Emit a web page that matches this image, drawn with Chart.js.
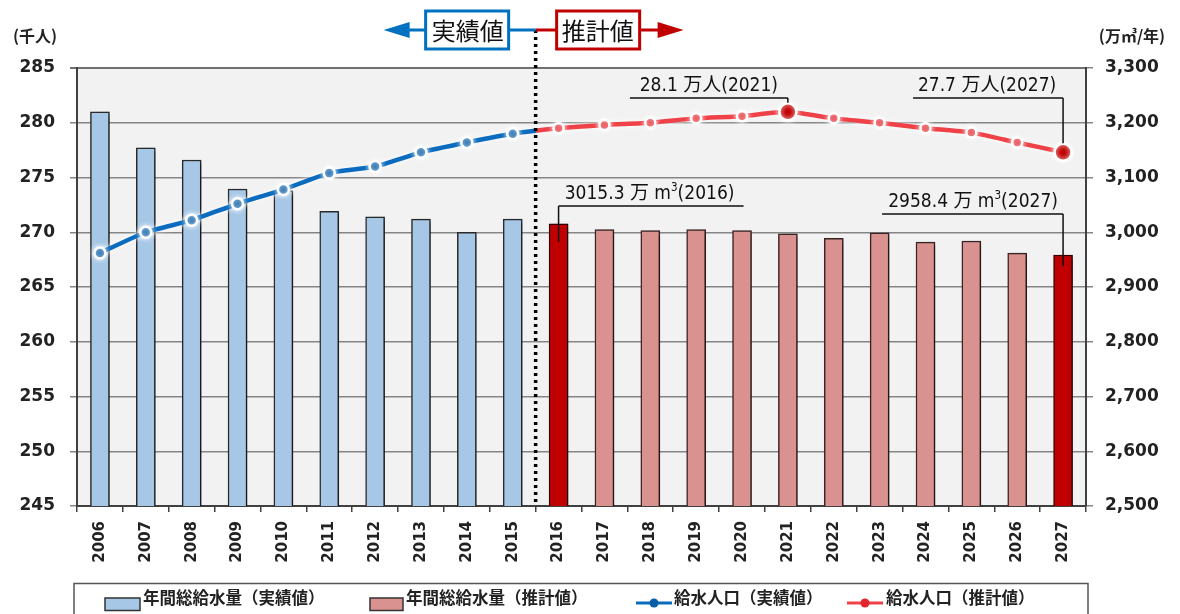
<!DOCTYPE html>
<html lang="ja">
<head>
<meta charset="utf-8">
<title>給水人口と年間総給水量</title>
<script src="https://cdn.jsdelivr.net/npm/chart.js@4.4.0/dist/chart.umd.min.js"></script>
<style>
  html, body { margin: 0; padding: 0; background: #fff; }
  #wrap { position: relative; width: 1180px; height: 614px; }
</style>
</head>
<body>
<div id="wrap"><canvas id="chart"></canvas></div>
<script>
const years = ['2006', '2007', '2008', '2009', '2010', '2011', '2012', '2013', '2014', '2015', '2016',
    '2017', '2018', '2019', '2020', '2021', '2022', '2023', '2024', '2025', '2026', '2027'];

// 年間総給水量 (万m3/年), right axis
const supplyActual = [3220, 3154, 3132, 3079, 3076, 3038, 3028, 3024, 3000, 3024];
const supplyEstimate = [3015.3, 3005, 3003, 3005, 3003, 2997, 2989, 2999, 2982, 2984, 2962, 2958.4];

// 給水人口 (千人), left axis
const popActual = [268.1, 270.0, 271.1, 272.6, 273.9, 275.4, 276.0, 277.3, 278.2, 279.0];
const popEstimate = [279.5, 279.8, 280.0, 280.4, 280.6, 281.0, 280.4, 280.0, 279.5, 279.1, 278.2, 277.3];

const popAxis = [245, 285, 5];
const supplyAxis = [2500, 3300, 100];

const nActual = popActual.length;
const peakIndex = 15;  // 2021
const lastIndex = years.length - 1;

const BLUE = '#0b6cbf';
const RED = '#ef4248';
const DARKRED = '#c00000';

let pad = n => new Array(n).fill(null);
let supplyA = supplyActual.concat(pad(supplyEstimate.length));
let supplyE = pad(nActual).concat(supplyEstimate);
let population = popActual.concat(popEstimate);

let estBarColors = supplyE.map((v, i) => (i === nActual || i === lastIndex) ? DARKRED : '#d9928f');
let estBarBorders = supplyE.map((v, i) => (i === nActual || i === lastIndex) ? '#3a0000' : '#3a2424');

let pointColors = population.map((v, i) => {
    if (i < nActual) return '#0a5ea8';
    if (i === peakIndex || i === lastIndex) return DARKRED;
    return '#e3262c';
});
let pointRadii = population.map((v, i) => {
    if (i < nActual) return 5.5;
    if (i === peakIndex || i === lastIndex) return 8.5;
    return 5;
});

const canvasCtx = document.getElementById('chart').getContext('2d');

function segColor(s) {
    if (s.p1DataIndex < nActual) return BLUE;
    if (s.p0DataIndex >= nActual) return RED;
    let g = canvasCtx.createLinearGradient(s.p0.x, 0, s.p1.x, 0);
    g.addColorStop(0, BLUE);
    g.addColorStop(0.5, BLUE);
    g.addColorStop(0.5, RED);
    g.addColorStop(1, RED);
    return g;
}

function drawParts(ctx, parts, cx, baseY) {
    const big = '19px "DejaVu Sans Condensed", "Noto Sans CJK JP", sans-serif';
    const small = '11.5px "DejaVu Sans Condensed", sans-serif';
    let w = 0;
    parts.forEach(p => { ctx.font = p.sup ? small : big; w += ctx.measureText(p.t).width; });
    let x = cx - w / 2;
    ctx.textAlign = 'left';
    ctx.textBaseline = 'alphabetic';
    parts.forEach(p => {
        ctx.font = p.sup ? small : big;
        ctx.fillText(p.t, x, p.sup ? baseY - 8 : baseY);
        x += ctx.measureText(p.t).width;
    });
}

function leader(ctx, x1, x2, y, vx, vy) {
    ctx.beginPath();
    ctx.moveTo(x1, y);
    ctx.lineTo(x2, y);
    ctx.moveTo(vx, y);
    ctx.lineTo(vx, vy);
    ctx.stroke();
}

const decor = {
    id: 'decor',
    beforeDraw(c) {
        const a = c.chartArea, ctx = c.ctx;
        ctx.save();
        ctx.fillStyle = '#f2f2f2';
        ctx.fillRect(a.left, a.top, a.right - a.left, a.bottom - a.top);
        ctx.restore();
    },
    beforeDatasetDraw(c, args) {
        const ctx = c.ctx;
        ctx.save();
        if (args.meta.type === 'bar') {
            ctx.shadowColor = 'rgba(0,0,0,0.4)';
            ctx.shadowBlur = 5;
            ctx.shadowOffsetX = 5;
            ctx.shadowOffsetY = 2;
        } else {
            ctx.shadowColor = 'rgba(255,255,255,0.95)';
            ctx.shadowBlur = 5;
        }
    },
    afterDatasetDraw(c) {
        c.ctx.restore();
    },
    afterDatasetsDraw(c) {
        const ctx = c.ctx, a = c.chartArea, xs = c.scales.x;
        const xb = (xs.getPixelForValue(nActual - 1) + xs.getPixelForValue(nActual)) / 2;

        // boundary between actual and estimate
        ctx.save();
        ctx.strokeStyle = '#000';
        ctx.lineWidth = 3.5;
        ctx.setLineDash([3, 4]);
        ctx.beginPath();
        ctx.moveTo(xb, 30);
        ctx.lineTo(xb, a.bottom);
        ctx.stroke();
        ctx.restore();

        const lineMeta = c.getDatasetMeta(2);
        const barMeta = c.getDatasetMeta(1);
        ctx.save();
        ctx.strokeStyle = '#111';
        ctx.fillStyle = '#111';
        ctx.lineWidth = 1.5;

        let p = lineMeta.data[peakIndex];
        let ly = a.top + 30;
        leader(ctx, p.x - 158, p.x, ly, p.x, p.y - 9);
        drawParts(ctx, [{ t: (population[peakIndex] / 10).toFixed(1) + ' 万人(' + years[peakIndex] + ')' }], p.x - 79, ly - 7);

        p = lineMeta.data[lastIndex];
        leader(ctx, p.x - 150, p.x, ly, p.x, p.y - 9);
        drawParts(ctx, [{ t: (population[lastIndex] / 10).toFixed(1) + ' 万人(' + years[lastIndex] + ')' }], p.x - 76, ly - 7);

        let b = barMeta.data[nActual];
        ly = a.top + 138;
        leader(ctx, b.x, b.x + 185, ly, b.x, b.y + 18);
        drawParts(ctx, [{ t: supplyE[nActual].toFixed(1) + ' 万 m' }, { t: '3', sup: true }, { t: '(' + years[nActual] + ')' }], b.x + 91, ly - 7);

        b = barMeta.data[lastIndex];
        ly = a.top + 146;
        leader(ctx, b.x - 181, b.x, ly, b.x, b.y + 11);
        drawParts(ctx, [{ t: supplyE[lastIndex].toFixed(1) + ' 万 m' }, { t: '3', sup: true }, { t: '(' + years[lastIndex] + ')' }], b.x - 90, ly - 7);
        ctx.restore();
    },
    afterDraw(c) {
        const ctx = c.ctx, xs = c.scales.x;
        const xb = (xs.getPixelForValue(nActual - 1) + xs.getPixelForValue(nActual)) / 2;
        ctx.save();

        // header: 実績値 <- | -> 推計値
        const hy = 30;
        ctx.lineWidth = 3;
        ctx.strokeStyle = '#0070c0';
        ctx.fillStyle = '#0070c0';
        ctx.beginPath();
        ctx.moveTo(xb - 127, hy); ctx.lineTo(xb - 110, hy);
        ctx.moveTo(xb - 27, hy); ctx.lineTo(xb, hy);
        ctx.stroke();
        ctx.beginPath();
        ctx.moveTo(xb - 152, hy); ctx.lineTo(xb - 126, hy - 8); ctx.lineTo(xb - 126, hy + 8);
        ctx.closePath(); ctx.fill();
        ctx.fillStyle = '#fff';
        ctx.fillRect(xb - 110, 11, 83, 38);
        ctx.strokeRect(xb - 110, 11, 83, 38);

        ctx.strokeStyle = DARKRED;
        ctx.fillStyle = DARKRED;
        ctx.beginPath();
        ctx.moveTo(xb, hy); ctx.lineTo(xb + 21, hy);
        ctx.moveTo(xb + 104, hy); ctx.lineTo(xb + 123, hy);
        ctx.stroke();
        ctx.beginPath();
        ctx.moveTo(xb + 148, hy); ctx.lineTo(xb + 122, hy - 8); ctx.lineTo(xb + 122, hy + 8);
        ctx.closePath(); ctx.fill();
        ctx.fillStyle = '#fff';
        ctx.fillRect(xb + 21, 11, 83, 38);
        ctx.strokeRect(xb + 21, 11, 83, 38);

        ctx.fillStyle = '#111';
        ctx.font = '24px "Noto Sans CJK JP", sans-serif';
        ctx.textAlign = 'center';
        ctx.textBaseline = 'middle';
        ctx.fillText('実績値', xb - 68, 31);
        ctx.fillText('推計値', xb + 62, 31);

        // axis units
        ctx.font = 'bold 16px "Noto Sans CJK JP", sans-serif';
        ctx.fillStyle = '#222';
        ctx.fillText('(千人)', 35, 36);
        ctx.fillText('(万㎥/年)', 1132, 36);

        // legend
        const ly = 598;
        ctx.strokeStyle = '#555';
        ctx.lineWidth = 1.5;
        ctx.strokeRect(74, 583.5, 1014, 45);

        ctx.fillStyle = '#a7c7e7';
        ctx.strokeStyle = '#333';
        ctx.fillRect(105, 598, 35, 12.5);
        ctx.strokeRect(105, 598, 35, 12.5);
        ctx.fillStyle = '#d9928f';
        ctx.fillRect(370, 598, 33, 12.5);
        ctx.strokeRect(370, 598, 33, 12.5);

        ctx.lineWidth = 3;
        [[636, BLUE, '#0a5ea8'], [847, RED, '#e3262c']].forEach(([x0, lc, pc]) => {
            ctx.strokeStyle = lc;
            ctx.beginPath();
            ctx.moveTo(x0, 603); ctx.lineTo(x0 + 36, 603);
            ctx.stroke();
            ctx.fillStyle = pc;
            ctx.beginPath();
            ctx.arc(x0 + 18, 603, 4.5, 0, Math.PI * 2);
            ctx.fill();
        });

        ctx.fillStyle = '#222';
        ctx.font = 'bold 16.5px "Noto Sans CJK JP", sans-serif';
        ctx.textAlign = 'left';
        ctx.fillText('年間総給水量（実績値）', 143, ly);
        ctx.fillText('年間総給水量（推計値）', 406, ly);
        ctx.fillText('給水人口（実績値）', 674, ly);
        ctx.fillText('給水人口（推計値）', 886, ly);
        ctx.restore();
    }
};

new Chart(canvasCtx, {
    type: 'bar',
    data: {
        labels: years,
        datasets: [
            {
                label: '年間総給水量（実績値）',
                data: supplyA,
                yAxisID: 'y1',
                grouped: false,
                backgroundColor: '#a7c7e7',
                borderColor: '#2b2b2b',
                borderWidth: 1.5,
                barThickness: 19,
                order: 2
            },
            {
                label: '年間総給水量（推計値）',
                data: supplyE,
                yAxisID: 'y1',
                grouped: false,
                backgroundColor: estBarColors,
                borderColor: estBarBorders,
                borderWidth: 1.5,
                barThickness: 19,
                order: 1
            },
            {
                type: 'line',
                label: '給水人口',
                data: population,
                yAxisID: 'y',
                borderColor: BLUE,
                borderWidth: 4.5,
                tension: 0.2,
                segment: { borderColor: segColor },
                pointBackgroundColor: pointColors,
                pointBorderColor: '#fff',
                pointBorderWidth: 2.5,
                pointRadius: pointRadii,
                order: 0
            }
        ]
    },
    options: {
        responsive: true,
        maintainAspectRatio: false,
        animation: false,
        layout: { padding: { top: 68, bottom: 38, left: 0, right: 0 } },
        plugins: {
            legend: { display: false },
            tooltip: { enabled: false }
        },
        scales: {
            x: {
                offset: true,
                afterFit: s => { s.height = 70; },
                grid: { display: true, drawOnChartArea: false, offset: true, tickLength: 6, color: '#404040', lineWidth: 1.5 },
                border: { display: true, color: '#404040', width: 2 },
                ticks: {
                    autoSkip: false, minRotation: 90, maxRotation: 90, padding: 9,
                    color: '#222', font: { family: 'DejaVu Sans', weight: 'bold', size: 15 }
                }
            },
            y: {
                position: 'left',
                min: popAxis[0], max: popAxis[1],
                afterFit: s => { s.width = 77; },
                grid: {
                    color: t => t.tick && t.tick.value === popAxis[1] ? '#707070' : '#858585',
                    lineWidth: t => t.tick && t.tick.value === popAxis[1] ? 2 : 1.5,
                    tickLength: 7
                },
                border: { display: true, color: '#404040', width: 2 },
                ticks: {
                    stepSize: popAxis[2], padding: 15, color: '#222',
                    font: { family: 'DejaVu Sans', weight: 'bold', size: 17 }
                }
            },
            y1: {
                position: 'right',
                min: supplyAxis[0], max: supplyAxis[1],
                afterFit: s => { s.width = 94; },
                grid: { drawOnChartArea: false, color: '#858585', lineWidth: 1.5, tickLength: 7 },
                border: { display: true, color: '#404040', width: 2 },
                ticks: {
                    stepSize: supplyAxis[2], padding: 12, color: '#222',
                    font: { family: 'DejaVu Sans', weight: 'bold', size: 17 },
                    callback: v => v.toLocaleString('en-US')
                }
            }
        }
    },
    plugins: [decor]
});
</script>
</body>
</html>
